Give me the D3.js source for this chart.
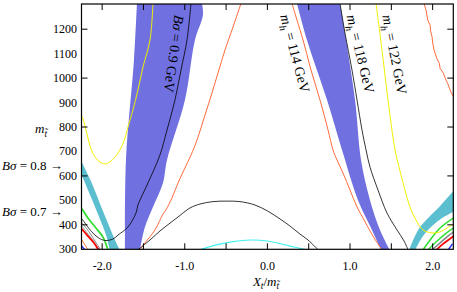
<!DOCTYPE html>
<html>
<head>
<meta charset="utf-8">
<script src="https://cdn.jsdelivr.net/npm/d3@7"></script>
<style>
  body { margin: 0; background: #fff; }
  svg text { font-family: 'Liberation Serif', 'DejaVu Serif', serif; fill: #000; }
</style>
</head>
<body>
<div id="chart"></div>
<script>
// axis ticks and labels
const xTickValues = [-2.0, -1.5, -1.0, -0.5, 0.0, 0.5, 1.0, 1.5, 2.0]
const xLabelValues = [-2.0, -1.0, 0.0, 1.0, 2.0]
const yLabelValues = [300, 400, 500, 600, 700, 800, 900, 1000, 1100, 1200]
const yTickValues = [400, 600, 800, 1000, 1200]

// filled bands: [X_t/m_t, m_stop] along each edge, top to bottom
const blueLeftEdgeA = [[-1.579, 1305], [-1.615, 1074], [-1.712, 665], [-1.724, 298]]
const blueLeftEdgeB = [[-0.792, 1305], [-0.780, 1258], [-0.877, 1156], [-0.998, 910], [-1.215, 665], [-1.264, 571], [-1.385, 473], [-1.482, 391], [-1.542, 298]]
const blueRightEdgeA = [[0.358, 1305], [0.479, 1156], [0.722, 910], [0.903, 706], [1.097, 501], [1.266, 379], [1.375, 298]]
const blueRightEdgeB = [[0.879, 1305], [0.952, 1156], [1.061, 910], [1.133, 665], [1.242, 501], [1.363, 379], [1.48, 298]]
const cyanLeftEdgeA = [[-2.27, 673], [-2.136, 579], [-2.015, 477], [-1.906, 387], [-1.845, 338], [-1.785, 296]]
const cyanLeftEdgeB = [[-2.27, 622], [-2.136, 514], [-2.015, 414], [-1.954, 360], [-1.906, 296]]
const cyanRightEdgeA = [[1.714, 296], [1.775, 346], [1.847, 391], [1.969, 436], [2.090, 477], [2.27, 546]]
const cyanRightEdgeB = [[1.787, 296], [1.884, 354], [1.993, 395], [2.114, 428], [2.27, 457]]

// contour lines
const bSigma09 = [[-2.26, 430], [-2.245, 424], [-2.127, 372], [-2.05, 348], [-1.966, 336], [-1.869, 342], [-1.809, 358], [-1.688, 391], [-1.591, 448], [-1.567, 481], [-1.53, 510], [-1.446, 571], [-1.30, 686], [-1.215, 788], [-1.119, 910], [-1.046, 1033], [-0.973, 1156], [-0.925, 1305]]
const blackDome = [[-1.567, 298], [-1.421, 338], [-1.300, 375], [-1.179, 407], [-1.082, 432], [-0.937, 469], [-0.816, 485], [-0.659, 495], [-0.489, 497], [-0.332, 495], [-0.150, 481], [0.0, 457], [0.153, 424], [0.274, 395], [0.395, 362], [0.492, 338], [0.613, 298]]
const cyanDome = [[-0.816, 298], [-0.614, 318], [-0.416, 331], [-0.211, 338], [0.0, 334], [0.274, 313], [0.476, 298]]
const mh114Left = [[-1.542, 298], [-1.482, 326], [-1.361, 379], [-1.264, 444], [-1.228, 461], [-1.155, 510], [-1.082, 571], [-1.010, 624], [-0.925, 685], [-0.852, 747], [-0.755, 849], [-0.671, 939], [-0.598, 1021], [-0.513, 1115], [-0.416, 1209], [-0.320, 1305]]
const mh114Right = [[0.298, 1305], [0.358, 1237], [0.431, 1156], [0.528, 1033], [0.637, 910], [0.734, 788], [0.794, 706], [0.843, 665], [0.915, 612], [1.0, 542], [1.085, 473], [1.170, 420], [1.242, 375], [1.315, 334], [1.387, 298]]
const orangeFar = [[1.896, 1305], [1.920, 1278], [1.941, 1237], [1.969, 1217], [1.977, 1190], [1.993, 1169], [2.001, 1142], [2.017, 1115], [2.050, 1081], [2.081, 1060], [2.090, 1040], [2.130, 1020], [2.162, 992], [2.190, 972], [2.219, 944], [2.253, 923], [2.27, 918]]
const mh118 = [[0.879, 1305], [0.939, 1184], [1.024, 1033], [1.085, 910], [1.145, 788], [1.194, 706], [1.242, 636], [1.339, 542], [1.448, 448], [1.569, 379], [1.654, 334], [1.702, 298]]
const mh122 = [[1.315, 1305], [1.387, 1115], [1.460, 910], [1.545, 706], [1.593, 636], [1.642, 571], [1.726, 473], [1.811, 412], [1.884, 379], [1.993, 367], [2.090, 371], [2.174, 387], [2.27, 408]]
const yellowLeft = [[-2.26, 850], [-2.245, 845], [-2.208, 804], [-2.166, 747], [-2.130, 706], [-2.075, 673], [-2.027, 657], [-1.966, 649], [-1.906, 657], [-1.845, 677], [-1.785, 706], [-1.724, 755], [-1.688, 800], [-1.627, 870], [-1.567, 951], [-1.506, 1045], [-1.421, 1156], [-1.385, 1305]]
const greenLeft = [[-2.26, 470], [-2.245, 465], [-2.172, 428], [-2.075, 387], [-1.990, 350], [-1.930, 298]]
const redLeft = [[-2.26, 390], [-2.245, 383], [-2.172, 354], [-2.099, 326], [-2.045, 298]]
const greyLeft1 = [[-2.26, 415], [-2.16, 372], [-2.08, 330], [-2.02, 298]]
const greyLeft2 = [[-2.26, 402], [-2.17, 362], [-2.09, 326], [-2.035, 298]]
const orangeLeft = [[-2.26, 345], [-2.245, 338], [-2.172, 298]]
const blueLeftTip = [[-2.26, 318], [-2.21, 298]]
const greenRight1 = [[1.884, 298], [1.969, 338], [2.090, 387], [2.27, 432]]
const greenRight2 = [[1.944, 298], [2.041, 330], [2.150, 362], [2.27, 391]]
const greyRight = [[1.993, 298], [2.090, 326], [2.186, 354], [2.27, 375]]
const redRight = [[2.047, 298], [2.126, 322], [2.27, 358]]
const blueRightTip = [[2.19, 298], [2.24, 322]]

// set up svg dimensions
const svgWidth = 457, svgHeight = 292
const svg = d3.select('#chart').append('svg')
  .attr('width', svgWidth)
  .attr('height', svgHeight)

const xScale = d3.scaleLinear().domain([-2.25, 2.25]).range([81.5, 453.3])
const yScale = d3.scaleLinear().domain([300, 1303]).range([249.3, 4])

svg.append('defs').append('clipPath').attr('id', 'plotClip')
  .append('rect')
    .attr('x', xScale(-2.25)).attr('y', yScale(1303))
    .attr('width', xScale(2.25) - xScale(-2.25))
    .attr('height', yScale(300) - yScale(1303))

const plot = svg.append('g').attr('clip-path', 'url(#plotClip)')

const smooth = d3.line().x(d => xScale(d[0])).y(d => yScale(d[1])).curve(d3.curveCatmullRom.alpha(0.5))
const straight = d3.line().x(d => xScale(d[0])).y(d => yScale(d[1]))

// band = one edge down, the other edge back up
const bandPath = (a, b) => smooth(a) + 'L' + smooth(b.slice().reverse()).slice(1) + 'Z'

const bands = [
  [blueLeftEdgeA, blueLeftEdgeB, '#7070e0'],
  [blueRightEdgeA, blueRightEdgeB, '#7070e0'],
  [cyanLeftEdgeA, cyanLeftEdgeB, '#5cbfcf'],
  [cyanRightEdgeA, cyanRightEdgeB, '#5cbfcf']
]
bands.forEach(b => {
  plot.append('path').attr('d', bandPath(b[0], b[1])).attr('fill', b[2])
})

// lines: data, colour, width, jagged?
const lines = [
  [greyLeft1, '#888', 1],
  [greyLeft2, '#999', 1],
  [orangeLeft, '#ff6a3a', 1],
  [blueLeftTip, '#3030ff', 1.5],
  [greenLeft, '#30e030', 1.8],
  [redLeft, '#ff0000', 1.8],
  [greenRight1, '#30e030', 1.6],
  [greenRight2, '#30e030', 1.4],
  [greyRight, '#888', 1.6],
  [redRight, '#ff0000', 1.8],
  [blueRightTip, '#3030ff', 1.5],
  [cyanDome, '#40f0f0', 1.2],
  [yellowLeft, '#f0f000', 1],
  [mh122, '#f0f000', 1],
  [mh114Left, '#ff6a3a', 1],
  [mh114Right, '#ff6a3a', 1],
  [orangeFar, '#ff6a3a', 1, true],
  [bSigma09, '#000', 0.8],
  [blackDome, '#000', 0.8],
  [mh118, '#000', 0.8]
]
lines.forEach(l => {
  plot.append('path')
    .attr('d', l[3] ? straight(l[0]) : smooth(l[0]))
    .attr('fill', 'none')
    .attr('stroke', l[1])
    .attr('stroke-width', l[2])
})

// frame and ticks
const x0 = xScale(-2.25), x1 = xScale(2.25), y0 = yScale(300), y1 = yScale(1303)
const axes = svg.append('g').attr('stroke', '#000')
axes.append('rect')
  .attr('x', x0).attr('y', y1).attr('width', x1 - x0).attr('height', y0 - y1)
  .attr('fill', 'none').attr('stroke-width', 1.2)

xTickValues.forEach(v => {
  axes.append('line').attr('x1', xScale(v)).attr('x2', xScale(v)).attr('y1', y0).attr('y2', y0 - 6)
  axes.append('line').attr('x1', xScale(v)).attr('x2', xScale(v)).attr('y1', y1).attr('y2', y1 + 6)
})
yTickValues.forEach(v => {
  axes.append('line').attr('x1', x0).attr('x2', x0 + 6).attr('y1', yScale(v)).attr('y2', yScale(v))
  axes.append('line').attr('x1', x1).attr('x2', x1 - 6).attr('y1', yScale(v)).attr('y2', yScale(v))
})

// tick labels
svg.append('g').selectAll('text')
  .data(xLabelValues).enter()
  .append('text')
    .attr('x', d => xScale(d))
    .attr('y', 269.5)
    .attr('text-anchor', 'middle')
    .style('font-size', '12px')
    .text(d => d.toFixed(1))

svg.append('g').selectAll('text')
  .data(yLabelValues).enter()
  .append('text')
    .attr('x', 77)
    .attr('y', d => yScale(d) + 4)
    .attr('text-anchor', 'end')
    .style('font-size', '12px')
    .text(d => d)

// rich text: parts of {t, i (italic), sub}
function rich(sel, parts, fs) {
  let down = false
  parts.forEach(p => {
    const ts = sel.append('tspan').text(p.t)
    if (p.i) ts.attr('font-style', 'italic')
    if (p.sub) {
      ts.style('font-size', (fs * 0.72) + 'px')
      if (!down) { ts.attr('dy', fs * 0.28); down = true }
    } else if (down) {
      ts.attr('dy', -fs * 0.28); down = false
    }
  })
  return sel
}

// axis titles
rich(svg.append('text').attr('x', 35).attr('y', 133).style('font-size', '13px'),
  [{t: 'm', i: true}, {t: 't\u0303', i: true, sub: true}], 13)
rich(svg.append('text').attr('x', 266).attr('y', 285.5).attr('text-anchor', 'middle').style('font-size', '13px'),
  [{t: 'X', i: true}, {t: 't', i: true, sub: true}, {t: '/'}, {t: 'm', i: true}, {t: 't\u0303', i: true, sub: true}], 13)

// side annotations
rich(svg.append('text').attr('x', 2).attr('y', 169.5).style('font-size', '13px'),
  [{t: 'B', i: true}, {t: '\u03c3', i: true}, {t: ' = 0.8 \u2192'}], 13)
rich(svg.append('text').attr('x', 2).attr('y', 215.5).style('font-size', '13px'),
  [{t: 'B', i: true}, {t: '\u03c3', i: true}, {t: ' = 0.7 \u2192'}], 13)

// contour labels along the curves: [x, y] start in data units, angle in degrees
const contourLabels = [
  {at: [-1.075, 1258], angle: 98, parts: [{t: 'B', i: true}, {t: '\u03c3', i: true}, {t: ' = 0.9 GeV'}]},
  {at: [0.200, 1259], angle: 75, parts: [{t: 'm', i: true}, {t: 'h', i: true, sub: true}, {t: ' = 114 GeV'}]},
  {at: [1.005, 1258], angle: 76.5, parts: [{t: 'm', i: true}, {t: 'h', i: true, sub: true}, {t: ' = 118 GeV'}]},
  {at: [1.438, 1258], angle: 79, parts: [{t: 'm', i: true}, {t: 'h', i: true, sub: true}, {t: ' = 122 GeV'}]}
]
contourLabels.forEach(c => {
  const px = xScale(c.at[0]), py = yScale(c.at[1])
  const t = svg.append('text')
    .attr('x', 0).attr('y', 4)
    .attr('transform', 'translate(' + px + ',' + py + ') rotate(' + c.angle + ')')
    .style('font-size', '14px')
  rich(t, c.parts, 14)
})
</script>
</body>
</html>
